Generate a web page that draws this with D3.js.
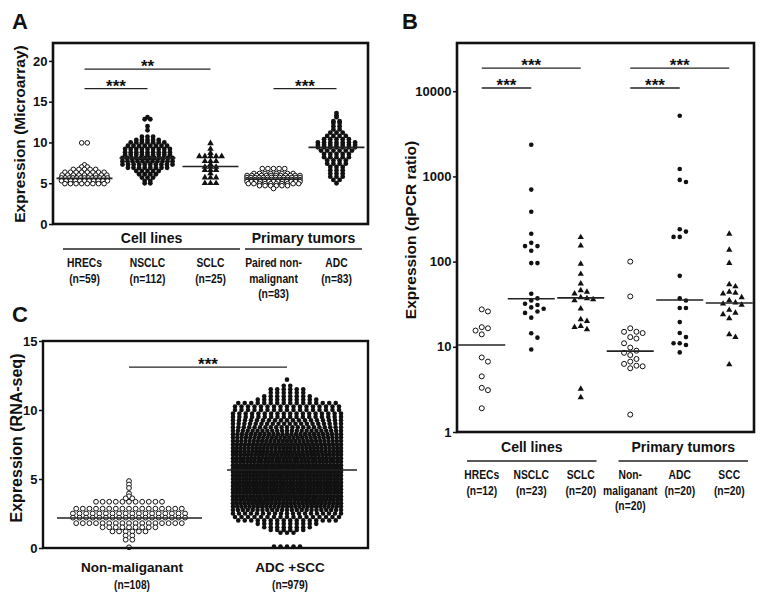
<!DOCTYPE html>
<html><head><meta charset="utf-8">
<script src="https://cdn.jsdelivr.net/npm/d3@7"></script>
<style>
body{margin:0;background:#fff}
svg{display:block}
text{font-family:'Liberation Sans',Arial,Helvetica,sans-serif;fill:#111}
</style>
</head><body>
<svg id="chart" width="766" height="601"></svg>
<script>
// ================= DATA =================
// ---- Panel A (Microarray) ----
const aCategories = ["HRECs","NSCLC","SCLC","Paired non-malignant","ADC"];
const aLabelLines = [["HRECs","(n=59)"],["NSCLC","(n=112)"],["SCLC","(n=25)"],["Paired non-","malignant","(n=83)"],["ADC","(n=83)"]];
const aMarkers = ["open","filled","triangle","open","filled"];
const aMedians = [5.6, 8.1, 7.05, 5.5, 9.4];
const aTicks = [0,5,10,15,20];
// value rows (value, number of samples at that value) read from the dot columns
const aHrecsValues = [9.95,7.25,7.0,6.7,6.35,6.0,5.65,5.3,4.95];
const aHrecsCounts = [2,1,2,5,8,9,13,11,8];
const aNsclcValues = [13.1,12.85,12.0,11.5,10.7,10.3,10.0,9.6,9.2,8.8,8.5,8.1,7.7,7.3,6.9,6.5,6.1,5.7,5.3,5.0];
const aNsclcCounts = [1,2,1,1,3,5,7,8,9,9,9,12,11,10,8,5,4,3,2,2];
const aSclcValues = [9.9,9.2,8.7,8.3,7.7,7.3,7.0,6.6,6.2,5.7,5.0];
const aSclcCounts = [1,1,1,5,3,1,3,3,1,3,3];
const aPairedValues = [6.8,6.2,5.95,5.7,5.45,5.2,4.95,4.7,4.35];
const aPairedCounts = [5,8,12,14,14,13,10,6,1];
const aAdcValues = [13.6,13.3,13.1,12.6,12.4,12.0,11.6,11.2,10.8,10.4,10.0,9.7,9.4,9.0,8.6,8.2,7.8,7.4,7.0,6.6,6.2,5.8,5.4,5.0];
const aAdcCounts = [1,1,1,2,2,2,2,3,4,5,7,7,7,6,5,5,4,4,3,3,3,3,2,1];
const aGroups = [{name:"Cell lines", from:0, to:2},{name:"Primary tumors", from:3, to:4}];
const aSignif = [{from:0,to:1,value:16.6,label:"***"},{from:0,to:2,value:19.0,label:"**"},{from:3,to:4,value:16.6,label:"***"}];

// ---- Panel B (qPCR ratio, log scale) ----
const bCategories = ["HRECs","NSCLC","SCLC","Non-maliganant","ADC","SCC"];
const bLabelLines = [["HRECs","(n=12)"],["NSCLC","(n=23)"],["SCLC","(n=20)"],["Non-","maliganant","(n=20)"],["ADC","(n=20)"],["SCC","(n=20)"]];
const bMarkers = ["open","filled","triangle","open","filled","triangle"];
const bMedians = [10.5, 36.6, 37.5, 8.9, 35.4, 32.7];
const bTicks = [1,10,100,1000,10000];
const bHrecs = [27.5,26,17,16.5,15.5,14,7.5,6.7,4.5,3.3,3.1,1.9];
const bNsclc = [2350,700,385,212,166,152,152,134,96,96,42,37,35,31,29,28,26,25,22,14.4,12.8,9.3,32];
const bSclc = [193,154,94,71.5,55,46,44,42,38,37,36,35,28,21,20,17.5,17,16,3.2,2.55];
const bNonMal = [100,39,16.5,15,15,14.5,13,12.5,11,9.8,9,8.5,8,7.2,6.7,6.3,6.0,5.9,5.6,1.6];
const bAdc = [5150,1220,910,860,240,225,195,195,68,37,35,28.5,28.5,19.5,14.5,13,11,11,10.5,8.6];
const bScc = [211,137,96,54,51,44,43,42,38,35,33,32,31,27,25,24,21.5,14,13,6.2];
const bGroups = [{name:"Cell lines", from:0, to:2},{name:"Primary tumors", from:3, to:5}];
const bSignif = [{from:0,to:1,value:10900,label:"***"},{from:0,to:2,value:18700,label:"***"},{from:3,to:4,value:10900,label:"***"},{from:3,to:5,value:18700,label:"***"}];

// ---- Panel C (RNA-seq) ----
const cCategories = ["Non-maliganant","ADC +SCC"];
const cNLabels = ["(n=108)","(n=979)"];
const cMarkers = ["open","filled"];
const cMedians = [2.17, 5.65];
const cTicks = [0,5,10,15];
const cNonMalValues = [4.85,4.6,4.35,3.95,3.75,3.6,3.35,2.85,2.5,2.2,1.8,1.5,1.2,0.9,0.6,0.05];
const cNonMalCounts = [1,1,1,1,1,2,11,17,18,18,17,9,6,2,2,1];
const cTumorValues = [12.2,11.75,11.5,11.25,11.0,10.75,10.5,10.25,10.0,9.75,9.5,9.25,9.0,8.75,8.5,8.25,8.0,7.75,7.5,7.25,7.0,6.75,6.5,6.25,6.0,5.75,5.5,5.25,5.0,4.75,4.5,4.25,4.0,3.75,3.5,3.25,3.0,2.75,2.5,2.25,2.0,1.75,1.5,1.3,1.1,0.1];
const cTumorCounts = [1,2,6,6,8,10,16,17,17,18,18,19,20,21,23,25,26,27,28,29,29,30,31,31,32,33,33,32,33,33,33,33,33,32,31,29,27,23,19,17,16,10,8,6,3,5];
const cSignif = [{from:0,to:1,value:13.1,label:"***"}];

// ================= DRAWING =================
const svg = d3.select("#chart");

function rowLayout(values, counts, cx, y, step, maxW){
  const pts=[];
  values.forEach((v,i)=>{
    const n=counts[i];
    const s = n>1 ? Math.min(step, maxW/(n-1)) : 0;
    for(let k=0;k<n;k++) pts.push({v, x: cx + (k-(n-1)/2)*s, y: y(v)});
  });
  return pts;
}
function swarm(values, cx, y, d){
  const placed=[];
  values.map(v=>({v, y:y(v)})).sort((a,b)=>a.y-b.y).forEach(p=>{
    for(let k=0;k<60;k++){
      const off = k===0?0:(k%2?1:-1)*Math.ceil(k/2)*d;
      const x = cx+off;
      if(placed.every(q=>Math.hypot(q.x-x,q.y-p.y)>=d-0.01)){ placed.push({v:p.v,x,y:p.y}); break; }
    }
  });
  return placed;
}
function drawMarkers(g, pts, type, r){
  if(type==="triangle"){
    g.selectAll(null).data(pts).join("path")
      .attr("d", d3.symbol(d3.symbolTriangle, r*r*3.2)())
      .attr("transform", d=>`translate(${d.x},${d.y})`).attr("fill","#111");
  } else {
    g.selectAll(null).data(pts).join("circle")
      .attr("cx",d=>d.x).attr("cy",d=>d.y).attr("r", r)
      .attr("fill", type==="open"?"#fff":"#111")
      .attr("stroke", type==="open"?"#111":"none").attr("stroke-width",1);
  }
}
function frame(x0,x1,y0,y1,sw){
  svg.append("rect").attr("x",x0).attr("y",y0).attr("width",x1-x0).attr("height",y1-y0)
    .attr("fill","none").attr("stroke","#111").attr("stroke-width",sw);
}
function yAxis(x0, y, ticks, fmt){
  const g = svg.append("g").attr("transform",`translate(${x0},0)`)
    .call(d3.axisLeft(y).tickValues(ticks).tickFormat(fmt).tickSize(4).tickPadding(1.5));
  g.select(".domain").remove();
  g.selectAll(".tick line").attr("stroke","#111").attr("stroke-width",1.5);
  g.selectAll(".tick text").attr("font-size",13).attr("font-weight","bold").attr("fill","#111")
    .style("font-family","'Liberation Sans',Arial,sans-serif");
  return g;
}
function medians(x, meds, w, y){
  svg.append("g").selectAll("line").data(meds).join("line")
    .attr("x1",(d,i)=>x(i)-w/2).attr("x2",(d,i)=>x(i)+w/2)
    .attr("y1",d=>y(d)).attr("y2",d=>y(d)).attr("stroke","#222").attr("stroke-width",1.6);
}
function signif(list, x, y){
  const g = svg.append("g");
  list.forEach(s=>{
    const yy=y(s.value), x1=x(s.from), x2=x(s.to);
    g.append("line").attr("x1",x1).attr("x2",x2).attr("y1",yy).attr("y2",yy).attr("stroke","#222").attr("stroke-width",1.3);
    g.append("text").attr("x",(x1+x2)/2).attr("y",yy+3).attr("text-anchor","middle")
      .attr("font-size",17).attr("font-weight","bold").text(s.label);
  });
}
function groupHeaders(groups, x, bw, yText, yLine, pads){
  groups.forEach((gr,i)=>{
    const x1 = x(gr.from)-bw/2+pads[i][0], x2 = x(gr.to)+bw/2-pads[i][1];
    svg.append("text").attr("x",(x1+x2)/2).attr("y",yText).attr("text-anchor","middle")
      .attr("font-size",14).attr("font-weight","bold").text(gr.name);
    svg.append("line").attr("x1",x1).attr("x2",x2).attr("y1",yLine).attr("y2",yLine)
      .attr("stroke","#222").attr("stroke-width",1.5);
  });
}
function condensed(x, y, t, size, sx, weight){
  svg.append("text").attr("transform",`translate(${x},${y}) scale(${sx},1)`).attr("text-anchor","middle")
    .attr("font-size",size).attr("font-weight",weight).text(t);
}
function catLabels(lines, x, y0, dy){
  lines.forEach((ls,i)=>{
    ls.forEach((t,j)=> condensed(x(i), y0+j*dy, t, 12, 0.86, "bold"));
  });
}
function title(txt, cx, cy, size){
  svg.append("text").attr("transform",`translate(${cx},${cy}) rotate(-90)`).attr("text-anchor","middle")
    .attr("dominant-baseline","central").attr("font-size",size).attr("font-weight","bold").text(txt);
}
function letter(t,x,y){ svg.append("text").attr("x",x).attr("y",y).attr("font-size",22).attr("font-weight","bold").text(t); }

// ---------- Panel A ----------
{
  const x0=53,x1=368,y0=43,y1=224;
  const xb = d3.scaleBand().domain(d3.range(aCategories.length)).range([x0,x1]);
  const xc = i=>xb(i)+xb.bandwidth()/2;
  const y = d3.scaleLinear().domain([0,22.2]).range([y1,y0]);
  const rows = [[aHrecsValues,aHrecsCounts,46,5.6],[aNsclcValues,aNsclcCounts,50,5.6],[aSclcValues,aSclcCounts,33,5.6],[aPairedValues,aPairedCounts,53,5.6],[aAdcValues,aAdcCounts,42,6.2]];
  rows.forEach((r,i)=>{
    const pts = rowLayout(r[0], r[1], xc(i), y, r[3], r[2]);
    drawMarkers(svg.append("g"), pts, aMarkers[i], aMarkers[i]==="open"?2.3:2.4);
  });
  medians(xc, aMedians, 56, y);
  frame(x0,x1,y0,y1,2.6);
  yAxis(x0, y, aTicks, d3.format("d"));
  signif(aSignif, xc, y);
  groupHeaders(aGroups, xc, xb.bandwidth(), 243, 249, [[10,2],[3,6]]);
  catLabels(aLabelLines, xc, 267, 15.5);
  title("Expression (Microarray)", 19, 134, 15.5);
  letter("A", 12, 29);
}

// ---------- Panel B ----------
{
  const x0=457,x1=754,y0=43,y1=432;
  const xb = d3.scaleBand().domain(d3.range(bCategories.length)).range([x0,x1]);
  const xc = i=>xb(i)+xb.bandwidth()/2;
  const y = d3.scaleLog().domain([1,36800]).range([y1,y0]);
  [bHrecs,bNsclc,bSclc,bNonMal,bAdc,bScc].forEach((vals,i)=>{
    const pts = swarm(vals, xc(i), y, 6.2);
    drawMarkers(svg.append("g"), pts, bMarkers[i], bMarkers[i]==="open"?2.5:2.3);
  });
  medians(xc, bMedians, 47, y);
  frame(x0,x1,y0,y1,2.6);
  yAxis(x0, y, bTicks, d3.format("d"));
  signif(bSignif, xc, y);
  groupHeaders(bGroups, xc, xb.bandwidth(), 452, 461, [[10,9],[13,6]]);
  catLabels(bLabelLines, xc, 479, 15.5);
  title("Expression (qPCR ratio)", 410, 230, 15.5);
  letter("B", 402, 29);
}

// ---------- Panel C ----------
{
  const x0=43,x1=368,y0=341,y1=548;
  const xb = d3.scaleBand().domain(d3.range(cCategories.length)).range([50,366]);
  const xc = i=>xb(i)+xb.bandwidth()/2;
  const y = d3.scaleLinear().domain([0,15]).range([y1,y0]);
  const ptsN = rowLayout(cNonMalValues, cNonMalCounts, xc(0), y, 6.6, 113);
  drawMarkers(svg.append("g"), ptsN, cMarkers[0], 2.4);
  const ptsT = rowLayout(cTumorValues, cTumorCounts, xc(1), y, 6.5, 108);
  drawMarkers(svg.append("g"), ptsT, cMarkers[1], 2.3);
  svg.append("g").selectAll("line").data(cMedians).join("line")
    .attr("x1",(d,i)=>i===0?57:227).attr("x2",(d,i)=>i===0?202:357)
    .attr("y1",d=>y(d)).attr("y2",d=>y(d)).attr("stroke","#222").attr("stroke-width",1.6);
  frame(x0,x1,y0,y1,2.4);
  yAxis(x0, y, cTicks, d3.format("d"));
  signif(cSignif, xc, y);
  cCategories.forEach((c,i)=>{
    svg.append("text").attr("x",xc(i)+3).attr("y",572).attr("text-anchor","middle")
      .attr("font-size",13.5).attr("font-weight","bold").text(c);
    condensed(xc(i)+3, 589, cNLabels[i], 12, 0.85, "bold");
  });
  title("Expression (RNA-seq)", 16, 438, 16);
  letter("C", 12, 322);
}
</script>
</body></html>
